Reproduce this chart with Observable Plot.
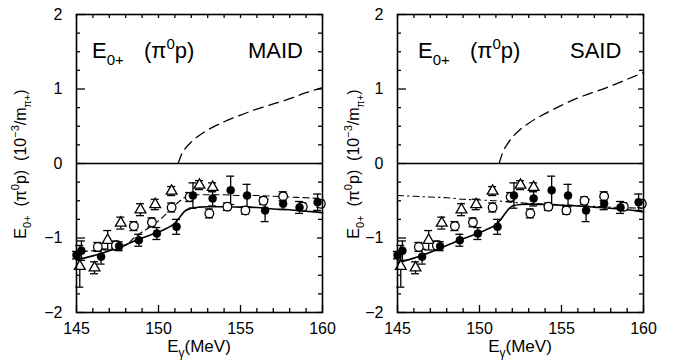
<!DOCTYPE html>
<html><head><meta charset="utf-8">
<script src="https://cdn.jsdelivr.net/npm/d3@7"></script>
<script src="https://cdn.jsdelivr.net/npm/@observablehq/plot@0.6"></script>
<style>
body{margin:0;background:#fff;}
#wrap{display:flex;width:680px;height:360px;}
#wrap svg{display:block;}
</style></head><body><div id="wrap"></div>
<script>
// ---- axis ticks ----
const xTicksMajor = [145, 150, 155, 160];
const xTicksMinor = [146, 147, 148, 149, 151, 152, 153, 154, 156, 157, 158, 159];
const yTicksMajor = [-2, -1, 0, 1, 2];
const yTicksMinor = [-1.75, -1.5, -1.25, -0.75, -0.5, -0.25, 0.25, 0.5, 0.75, 1.25, 1.5, 1.75];

// ---- experimental data (same in both panels) ----
const filledE   = [145.0, 145.3, 146.5, 147.6, 148.8, 149.9, 151.1, 152.1, 153.3, 154.4, 155.4, 156.5, 157.6, 158.6, 159.7];
const filledV   = [-1.23, -1.17, -1.25, -1.11, -1.03, -0.94, -0.85, -0.43, -0.47, -0.36, -0.43, -0.63, -0.54, -0.59, -0.52];
const filledErr = [0.05, 0.13, 0.10, 0.06, 0.08, 0.08, 0.10, 0.17, 0.10, 0.19, 0.15, 0.15, 0.08, 0.08, 0.11];

const openE   = [146.3, 147.4, 148.5, 149.6, 150.8, 151.9, 153.1, 154.2, 155.3, 156.4, 157.6, 158.8, 159.9];
const openV   = [-1.12, -1.10, -0.84, -0.79, -0.59, -0.45, -0.67, -0.58, -0.63, -0.50, -0.44, -0.58, -0.54];
const openErr = [0.06, 0.06, 0.06, 0.06, 0.06, 0.06, 0.06, 0.05, 0.05, 0.05, 0.06, 0.05, 0.05];

const triE   = [145.2, 146.1, 146.9, 147.7, 148.9, 149.8, 150.8, 152.5, 153.3];
const triV   = [-1.38, -1.40, -1.03, -0.80, -0.62, -0.55, -0.37, -0.29, -0.32];
const triErr = [0.28, 0.08, 0.13, 0.08, 0.08, 0.07, 0.06, 0.06, 0.06];

// ---- model curves ----
const maidSolidE = [145, 146, 147, 148, 149, 150, 150.5, 151, 151.3, 151.6, 152, 152.5, 153, 154, 155, 156, 157, 158, 159, 160];
const maidSolidV = [-1.29, -1.24, -1.17, -1.09, -1.00, -0.92, -0.87, -0.80, -0.72, -0.64, -0.60, -0.585, -0.58, -0.58, -0.585, -0.59, -0.61, -0.62, -0.64, -0.66];
const maidLowE = [145.3, 146, 147, 148, 148.5, 149, 149.5, 150, 150.5, 151, 151.5, 152, 153, 154, 155, 156, 157, 158, 159, 160];
const maidLowV = [-1.18, -1.17, -1.14, -1.10, -1.00, -0.92, -0.85, -0.77, -0.67, -0.56, -0.47, -0.42, -0.42, -0.42, -0.43, -0.43, -0.44, -0.45, -0.46, -0.47];
const maidUpE = [151.2, 151.4, 151.7, 152, 152.5, 153, 154, 155, 156, 157, 158, 159, 160];
const maidUpV = [0, 0.12, 0.22, 0.29, 0.38, 0.45, 0.56, 0.65, 0.73, 0.80, 0.87, 0.95, 1.02];

const saidSolidE = [145, 146, 147, 148, 149, 150, 150.5, 151, 151.3, 151.6, 152, 152.5, 153, 154, 155, 156, 157, 158, 159, 160];
const saidSolidV = [-1.33, -1.27, -1.19, -1.10, -1.01, -0.93, -0.88, -0.82, -0.75, -0.66, -0.57, -0.55, -0.545, -0.55, -0.56, -0.57, -0.585, -0.60, -0.62, -0.65];
const saidLowE = [145, 146, 147, 148, 149, 150, 151, 152, 153, 154, 155, 156, 157, 158, 159, 160];
const saidLowV = [-0.43, -0.44, -0.45, -0.46, -0.48, -0.49, -0.50, -0.52, -0.535, -0.545, -0.555, -0.565, -0.575, -0.585, -0.595, -0.60];
const saidUpE = [151.2, 151.4, 151.7, 152, 152.5, 153, 154, 155, 156, 157, 158, 159, 160];
const saidUpV = [0, 0.14, 0.26, 0.35, 0.46, 0.54, 0.67, 0.78, 0.88, 0.96, 1.04, 1.13, 1.22];

const zip = (E, V, Err) => E.map((e, i) => ({e, v: V[i], err: Err ? Err[i] : 0}));
const filled = zip(filledE, filledV, filledErr);
const open = zip(openE, openV, openErr);
const tri = zip(triE, triV, triErr);
const all = [...filled, ...open, ...tri];

const FONT = "'Liberation Sans', Arial, Helvetica, sans-serif";
const H = 360, MT = 14, MB = 48;
const fmtY = d => d < 0 ? "\u2212" + (-d) : String(d);

function rich(g, x, y, parts, size, anchor = "start", rotate = 0) {
  const t = g.append("text").attr("x", x).attr("y", y)
    .attr("font-size", size).attr("text-anchor", anchor).attr("fill", "black")
    .attr("font-family", FONT).style("white-space", "pre");
  if (rotate) t.attr("transform", `rotate(${rotate},${x},${y})`);
  for (const p of parts) {
    const s = t.append("tspan").text(p.t);
    if (p.size) s.attr("font-size", p.size);
    if (p.dy) s.attr("dy", p.dy);
    if (p.x != null) s.attr("x", p.x);
  }
  return t;
}

function panel(cfg) {
  const fw = 340 - cfg.ml - cfg.mr, fh = H - MT - MB;
  const plot = Plot.plot({
    width: 340, height: H,
    marginLeft: cfg.ml, marginRight: cfg.mr, marginTop: MT, marginBottom: MB,
    style: {fontFamily: FONT, fontSize: "16px", color: "black", background: "white"},
    x: {domain: [145, 160]},
    y: {domain: [-2, 2]},
    marks: [
      Plot.axisX({ticks: xTicksMajor, tickSize: 0, tickPadding: 10, label: null, tickFormat: d => String(d)}),
      Plot.axisY({ticks: yTicksMajor, tickSize: 0, tickPadding: 14, label: null, tickFormat: fmtY}),
      // inward ticks
      Plot.tickX(xTicksMajor, {x: d => d, insetTop: fh - 7, strokeWidth: 1.3}),
      Plot.tickX(xTicksMinor, {x: d => d, insetTop: fh - 4, strokeWidth: 1.3}),
      Plot.tickX(xTicksMajor, {x: d => d, insetBottom: fh - 4, strokeWidth: 1.3}),
      Plot.tickX(xTicksMinor, {x: d => d, insetBottom: fh - 4, strokeWidth: 1.3}),
      Plot.tickY(yTicksMajor, {y: d => d, insetRight: fw - 9, strokeWidth: 1.3}),
      Plot.tickY(yTicksMinor, {y: d => d, insetRight: fw - 4, strokeWidth: 1.3}),
      Plot.tickY(yTicksMajor, {y: d => d, insetLeft: fw - 5, strokeWidth: 1.3}),
      Plot.tickY(yTicksMinor, {y: d => d, insetLeft: fw - 4, strokeWidth: 1.3}),
      Plot.ruleY([0], {strokeWidth: 1.3}),
      // model curves
      Plot.line(cfg.upE.map((e, i) => [e, cfg.upV[i]]), {x: "0", y: "1", stroke: "black", strokeWidth: 1.3, strokeDasharray: "10,6", curve: "monotone-x"}),
      Plot.line(cfg.lowE.map((e, i) => [e, cfg.lowV[i]]), {x: "0", y: "1", stroke: "black", strokeWidth: 1.1, strokeDasharray: cfg.lowDash, curve: "monotone-x"}),
      Plot.line(cfg.solidE.map((e, i) => [e, cfg.solidV[i]]), {x: "0", y: "1", stroke: "black", strokeWidth: 1.6, curve: "monotone-x"}),
      // error bars
      Plot.ruleX(all, {x: "e", y1: d => d.v - d.err, y2: d => d.v + d.err, strokeWidth: 1.3}),
      Plot.ruleY(all, {y: d => d.v + d.err, x1: "e", x2: "e", insetLeft: -4, insetRight: -4, strokeWidth: 1.3}),
      Plot.ruleY(all, {y: d => d.v - d.err, x1: "e", x2: "e", insetLeft: -4, insetRight: -4, strokeWidth: 1.3}),
      // markers
      Plot.dot(tri, {x: "e", y: "v", symbol: "triangle", r: 4, fill: "white", stroke: "black", strokeWidth: 1.3}),
      Plot.dot(open, {x: "e", y: "v", r: 4.3, fill: "white", stroke: "black", strokeWidth: 1.3}),
      Plot.dot(filled, {x: "e", y: "v", r: 4, fill: "black", stroke: "black", strokeWidth: 0.5}),
      Plot.frame({strokeWidth: 1.6})
    ]
  });
  const g = d3.select(plot);
  // panel label
  rich(g, cfg.ml + cfg.eOff, 58, [
    {t: "E"}, {t: "0+", size: 15, dy: 7},
    {t: "(\u03c0", x: cfg.ml + cfg.eOff + 52, dy: -7}, {t: "0", size: 15, dy: -9}, {t: "p)", dy: 9}
  ], 22);
  rich(g, cfg.nameX, 58, [{t: cfg.name}], 22);
  // y title
  rich(g, cfg.ytx, 164, [
    {t: "E"}, {t: "0+", size: 11, dy: 5}, {t: "  (\u03c0", dy: -5}, {t: "0", size: 11, dy: -7}, {t: "p)  (10", dy: 7},
    {t: "\u22123", size: 11, dy: -7}, {t: "/m", dy: 7}, {t: "\u03c0+", size: 10, dy: 5}, {t: ")", dy: -5}
  ], 16, "middle", -90);
  // x title
  rich(g, cfg.ml + fw / 2, 352, [{t: "E"}, {t: "\u03b3", size: 12, dy: 5}, {t: "(MeV)", dy: -5}], 17, "middle");
  return plot;
}

const wrap = document.getElementById("wrap");
wrap.append(panel({
  name: "MAID", ml: 76, mr: 18, eOff: 16, nameX: 248, ytx: 26,
  solidE: maidSolidE, solidV: maidSolidV, lowE: maidLowE, lowV: maidLowV, lowDash: "6,4",
  upE: maidUpE, upV: maidUpV
}));
wrap.append(panel({
  name: "SAID", ml: 57, mr: 37, eOff: 21, nameX: 230, ytx: 19,
  solidE: saidSolidE, solidV: saidSolidV, lowE: saidLowE, lowV: saidLowV, lowDash: "6,4,1.5,4",
  upE: saidUpE, upV: saidUpV
}));
</script></body></html>
